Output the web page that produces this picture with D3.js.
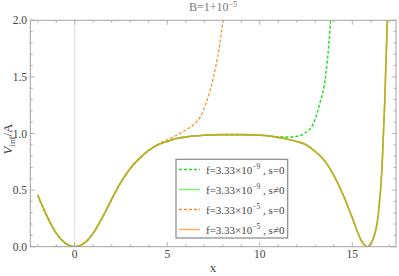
<!DOCTYPE html>
<html>
<head>
<meta charset="utf-8">
<script src="https://cdn.jsdelivr.net/npm/d3@7"></script>
<style>
  body { margin: 0; background: #fff; }
  svg text { font-family: "Liberation Serif", "Times New Roman", serif; }
</style>
</head>
<body>
<div id="chart"></div>
<script>
var w = 399,
  h = 276;

// solid curves (s != 0), both f values overlap
var solidX = [-2, -1.5, -1, -0.5, 0, 0.5, 1, 1.5, 2, 2.5, 3, 3.5, 4, 4.5, 5, 5.5, 6, 7, 8, 9, 10, 10.5, 11, 11.5, 12, 12.5, 13, 13.5, 14, 14.5, 15, 15.5, 15.8, 16.1, 16.4, 16.6, 16.75, 16.9]
var solidV = [0.457, 0.27, 0.12, 0.03, 0, 0.03, 0.12, 0.26, 0.42, 0.57, 0.69, 0.78, 0.85, 0.90, 0.93, 0.955, 0.97, 0.985, 0.99, 0.99, 0.985, 0.978, 0.965, 0.95, 0.93, 0.90, 0.84, 0.76, 0.63, 0.46, 0.255, 0.05, 0, 0.06, 0.28, 0.68, 1.27, 2.05]

// f=3.33e-9, s=0 (green dashed)
var greenX = [-2, -1.5, -1, -0.5, 0, 0.5, 1, 1.5, 2, 2.5, 3, 3.5, 4, 4.5, 5, 5.5, 6, 7, 8, 9, 10, 10.5, 11, 11.5, 12, 12.4, 12.9, 13.25, 13.55, 13.72, 13.85]
var greenV = [0.457, 0.27, 0.12, 0.03, 0, 0.03, 0.12, 0.26, 0.42, 0.57, 0.69, 0.78, 0.85, 0.90, 0.93, 0.955, 0.97, 0.985, 0.99, 0.99, 0.985, 0.98, 0.972, 0.968, 0.975, 1.0, 1.09, 1.27, 1.5, 1.77, 2.05]

// f=3.33e-5, s=0 (orange dashed)
var orangeX = [-2, -1.5, -1, -0.5, 0, 0.5, 1, 1.5, 2, 2.5, 3, 3.5, 4, 4.5, 5, 5.5, 6, 6.5, 6.8, 7.1, 7.5, 7.8, 8.05]
var orangeV = [0.457, 0.27, 0.12, 0.03, 0, 0.03, 0.12, 0.26, 0.42, 0.57, 0.69, 0.78, 0.85, 0.905, 0.945, 0.985, 1.03, 1.09, 1.15, 1.27, 1.5, 1.75, 2.05]

var xTicks = [0, 5, 10, 15]
var yTicks = [0, 0.5, 1.0, 1.5, 2.0]
var legendItems = [
  {exp: "\u22129", s: "s=0", color: "#22e022", dash: "3,2"},
  {exp: "\u22129", s: "s\u22600", color: "#7ff06a", dash: null},
  {exp: "\u22125", s: "s=0", color: "#ff8a1c", dash: "3,2"},
  {exp: "\u22125", s: "s\u22600", color: "#ffae5c", dash: null}
]

var pLeft = 30.3, pRight = 396, pTop = 20.3, pBottom = 246.7

var x = d3.scaleLinear().domain([-2.4, 17.36]).range([pLeft, pRight])
var y = d3.scaleLinear().domain([0, 2]).range([pBottom, pTop])

var svg = d3.select("#chart").append("svg")
  .attr("width", w)
  .attr("height", h)

svg.append("defs").append("clipPath").attr("id", "clip")
  .append("rect")
  .attr("x", pLeft).attr("y", pTop)
  .attr("width", pRight - pLeft).attr("height", pBottom - pTop)

// x=0 axis line
svg.append("line")
  .attr("x1", x(0)).attr("x2", x(0))
  .attr("y1", pTop).attr("y2", pBottom)
  .attr("stroke", "#dcdcdc")
  .attr("stroke-width", 1)

var line = d3.line()
  .x(function(d){ return x(d[0]) })
  .y(function(d){ return y(d[1]) })
  .curve(d3.curveMonotoneX)

function pairs(xs, vs){
  return xs.map(function(d, i){ return [d, vs[i]] })
}

var plot = svg.append("g").attr("clip-path", "url(#clip)")

// dashed lines first, solids drawn over them
plot.append("path")
  .datum(pairs(greenX, greenV))
  .attr("d", line)
  .attr("fill", "none")
  .attr("stroke", "#22e022")
  .attr("stroke-width", 1.5)
  .attr("stroke-dasharray", "3,2")

plot.append("path")
  .datum(pairs(orangeX, orangeV))
  .attr("d", line)
  .attr("fill", "none")
  .attr("stroke", "#ff8a1c")
  .attr("stroke-width", 1.2)
  .attr("stroke-dasharray", "3,2")

plot.append("path")
  .datum(pairs(solidX, solidV))
  .attr("d", line)
  .attr("fill", "none")
  .attr("stroke", "rgb(120,200,40)")
  .attr("stroke-width", 1.6)
plot.append("path")
  .datum(pairs(solidX, solidV))
  .attr("d", line)
  .attr("fill", "none")
  .attr("stroke", "rgb(225,160,30)")
  .attr("stroke-opacity", 0.7)
  .attr("stroke-width", 1.6)

// frame
var frameColor = "#a0a0a0"
svg.append("rect")
  .attr("x", pLeft).attr("y", pTop)
  .attr("width", pRight - pLeft).attr("height", pBottom - pTop)
  .attr("fill", "none")
  .attr("stroke", frameColor)
  .attr("stroke-width", 1)

// ticks on all sides, pointing inward
var ticks = svg.append("g").attr("stroke", frameColor).attr("stroke-width", 0.8)
d3.range(-2, 18, 1).forEach(function(t){
  var len = (t % 5 === 0) ? 4.5 : 2.5
  ticks.append("line").attr("x1", x(t)).attr("x2", x(t)).attr("y1", pBottom).attr("y2", pBottom - len)
  ticks.append("line").attr("x1", x(t)).attr("x2", x(t)).attr("y1", pTop).attr("y2", pTop + len)
})
d3.range(0, 21, 1).forEach(function(k){
  var t = k / 10
  var len = (k % 5 === 0) ? 4.5 : 2.5
  ticks.append("line").attr("y1", y(t)).attr("y2", y(t)).attr("x1", pLeft).attr("x2", pLeft + len)
  ticks.append("line").attr("y1", y(t)).attr("y2", y(t)).attr("x1", pRight).attr("x2", pRight - len)
})

svg.selectAll(".xlab").data(xTicks).enter().append("text")
  .attr("x", function(d){ return x(d) })
  .attr("y", 258)
  .attr("text-anchor", "middle")
  .attr("font-size", "11.5px")
  .attr("fill", "#444")
  .text(function(d){ return d })

svg.selectAll(".ylab").data(yTicks).enter().append("text")
  .attr("x", 27)
  .attr("y", function(d){ return y(d) + 4 })
  .attr("text-anchor", "end")
  .attr("font-size", "11.5px")
  .attr("fill", "#444")
  .text(function(d){ return d.toFixed(1) })

// title
var title = svg.append("text")
  .attr("x", 213)
  .attr("y", 11)
  .attr("text-anchor", "middle")
  .attr("font-size", "12px")
  .attr("fill", "#777")
title.append("tspan").text("B=1+10")
title.append("tspan").attr("dy", -4.5).attr("font-size", "8px").text("\u22125")

// axis labels
svg.append("text")
  .attr("x", 213)
  .attr("y", 272)
  .attr("text-anchor", "middle")
  .attr("font-size", "13px")
  .attr("fill", "#444")
  .text("x")

var ylab = svg.append("text")
  .attr("transform", "translate(12,139) rotate(-90)")
  .attr("text-anchor", "middle")
  .attr("font-size", "13px")
  .attr("fill", "#444")
ylab.append("tspan").attr("font-style", "italic").text("V")
ylab.append("tspan").attr("dy", 3).attr("font-size", "9px").text("inf")
ylab.append("tspan").attr("dy", -3).text("/A")

// legend
var legend = svg.append("g")
legend.append("rect")
  .attr("x", 176).attr("y", 159.3)
  .attr("width", 111.7).attr("height", 78.7)
  .attr("fill", "#fff")
  .attr("stroke", "#888")
  .attr("stroke-width", 1.2)

var rows = legend.selectAll(".row").data(legendItems).enter().append("g")
  .attr("transform", function(d, i){ return "translate(0," + (169.5 + i * 20) + ")" })
rows.append("line")
  .attr("x1", 179).attr("x2", 200)
  .attr("y1", 0).attr("y2", 0)
  .attr("stroke", function(d){ return d.color })
  .attr("stroke-width", 1.5)
  .attr("stroke-dasharray", function(d){ return d.dash })
var rt = rows.append("text")
  .attr("x", 206)
  .attr("y", 4)
  .attr("font-size", "11px")
  .attr("fill", "#444")
rt.append("tspan").text("f=3.33\u00d710")
rt.append("tspan").attr("dy", -4.5).attr("font-size", "7.5px").text(function(d){ return d.exp })
rt.append("tspan").attr("dy", 4.5).text(function(d){ return " , " + d.s })
</script>
</body>
</html>
